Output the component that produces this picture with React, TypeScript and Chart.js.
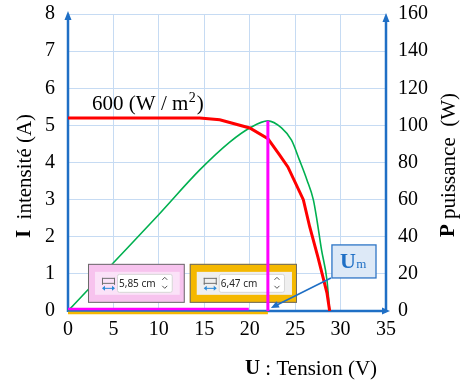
import React, { useEffect, useRef } from "react";
import { Chart, registerables } from "chart.js";

Chart.register(...registerables);

// ---------- data ----------
const xTicks = [0, 5, 10, 15, 20, 25, 30, 35];
const iTicks = [0, 1, 2, 3, 4, 5, 6, 7, 8];
const pTicks = [0, 20, 40, 60, 80, 100, 120, 140, 160];

// I(U) curve, 600 W/m²
const voltageI = [0, 5, 10, 14.5, 16.7, 20, 22, 23.3, 24.2, 25.9, 26.6, 27.5, 28.5, 28.8];
const currentA = [5.2, 5.2, 5.2, 5.2, 5.15, 4.93, 4.64, 4.2, 3.88, 3.0, 2.27, 1.46, 0.49, 0];

// P(U) curve
const voltageP = [0, 5, 10, 14.5, 17.8, 20, 22, 23.5, 24.6, 25.5, 26.3, 27, 27.4, 27.9, 28.5, 28.8];
const powerW = [0, 26, 52, 76, 91, 98.6, 102.4, 98.6, 92, 81, 70.6, 60, 49, 33, 16.7, 0];

// maximum power point
const umVoltage = [22, 22];
const umPower = [102.5, 0];

// ruler readings (cm) and their end voltages
const rulerLabels = ["5,85 cm", "6,47 cm"];
const rulerEnds = [19.9, 22.0];

const irradianceLabel = "600 (W / m";

// ---------- styles ----------
const AXIS_BLUE = "#1f6fc5";
const GRID = "#c6dbf3";
const SERIF = "'Liberation Serif', 'Times New Roman', serif";
const SANS = "'Noto Sans', 'Open Sans', sans-serif";

function arrowHead(ctx: CanvasRenderingContext2D, tx: number, ty: number, angle: number, len: number, half: number, color: string) {
  ctx.save();
  ctx.translate(tx, ty);
  ctx.rotate(angle);
  ctx.beginPath();
  ctx.moveTo(0, 0);
  ctx.lineTo(-len, -half);
  ctx.lineTo(-len, half);
  ctx.closePath();
  ctx.fillStyle = color;
  ctx.fill();
  ctx.restore();
}

function drawRulerBox(ctx: CanvasRenderingContext2D, x0: number, y0: number, x1: number, y1: number, outer: string, inner: string, label: string) {
  ctx.save();
  ctx.fillStyle = outer;
  ctx.fillRect(x0, y0, x1 - x0, y1 - y0);
  ctx.strokeStyle = "#6a6a6a";
  ctx.lineWidth = 1;
  ctx.strokeRect(x0 + 0.5, y0 + 0.5, x1 - x0 - 1, y1 - y0 - 1);
  // inner panel
  ctx.fillStyle = inner;
  ctx.fillRect(x0 + 7, y0 + 8, x1 - x0 - 12, y1 - y0 - 16);
  // icon
  const ix = x0 + 14;
  const iy = y0 + 14;
  ctx.strokeStyle = "#6f6f6f";
  ctx.lineWidth = 1;
  ctx.beginPath();
  ctx.moveTo(ix, iy + 0.5);
  ctx.lineTo(ix + 13, iy + 0.5);
  ctx.moveTo(ix + 0.5, iy);
  ctx.lineTo(ix + 0.5, iy + 7);
  ctx.moveTo(ix + 12.5, iy);
  ctx.lineTo(ix + 12.5, iy + 7);
  ctx.moveTo(ix, iy + 5.5);
  ctx.lineTo(ix + 13, iy + 5.5);
  ctx.stroke();
  ctx.strokeStyle = "#2b8ad8";
  ctx.beginPath();
  ctx.moveTo(ix + 1, iy + 10.5);
  ctx.lineTo(ix + 12, iy + 10.5);
  ctx.stroke();
  arrowHead(ctx, ix, iy + 10.5, Math.PI, 3, 2.5, "#2b8ad8");
  arrowHead(ctx, ix + 13, iy + 10.5, 0, 3, 2.5, "#2b8ad8");
  // input box
  const bx0 = x0 + 29;
  const bx1 = x1 - 13;
  const by0 = y0 + 10;
  const by1 = y1 - 11;
  ctx.fillStyle = "#ffffff";
  ctx.beginPath();
  ctx.roundRect(bx0 + 0.5, by0 + 0.5, bx1 - bx0, by1 - by0, 2);
  ctx.fill();
  ctx.strokeStyle = "#d6d6d6";
  ctx.stroke();
  ctx.fillStyle = "#262626";
  ctx.font = `10px ${SANS}`;
  ctx.textBaseline = "middle";
  ctx.textAlign = "left";
  ctx.fillText(label, bx0 + 2, (by0 + by1) / 2 + 1);
  // spinner
  const sx = bx1 - 7;
  const sy = (by0 + by1) / 2;
  ctx.strokeStyle = "#555";
  ctx.lineWidth = 1;
  ctx.beginPath();
  ctx.moveTo(sx - 2.5, sy - 3);
  ctx.lineTo(sx, sy - 5.5);
  ctx.lineTo(sx + 2.5, sy - 3);
  ctx.moveTo(sx - 2.5, sy + 3);
  ctx.lineTo(sx, sy + 5.5);
  ctx.lineTo(sx + 2.5, sy + 3);
  ctx.stroke();
  ctx.restore();
}

const overlayPlugin = {
  id: "overlay",
  beforeDatasetsDraw(chart: any) {
    const ctx: CanvasRenderingContext2D = chart.ctx;
    const { left, right, top, bottom } = chart.chartArea;
    ctx.save();
    ctx.strokeStyle = AXIS_BLUE;
    ctx.lineWidth = 2.5;
    ctx.beginPath();
    ctx.moveTo(left, bottom + 1);
    ctx.lineTo(left, top + 4);
    ctx.moveTo(right, bottom + 1);
    ctx.lineTo(right, top + 6);
    ctx.moveTo(left, bottom);
    ctx.lineTo(right, bottom);
    ctx.stroke();
    arrowHead(ctx, left, top - 3, -Math.PI / 2, 9, 3.5, AXIS_BLUE);
    arrowHead(ctx, right, top - 1, -Math.PI / 2, 9, 3.5, AXIS_BLUE);
    arrowHead(ctx, right + 4, bottom, 0, 8, 3.5, AXIS_BLUE);
    ctx.restore();
  },
  afterDatasetDraw(chart: any, args: any) {
    if (args.index !== 1) return;
    const ctx: CanvasRenderingContext2D = chart.ctx;
    const xs = chart.scales.x;
    const ys = chart.scales.y;
    drawRulerBox(ctx, xs.getPixelForValue(2.2), ys.getPixelForValue(1.27), xs.getPixelForValue(12.85), ys.getPixelForValue(0.22), "#f7c3ee", "#fbe2f8", rulerLabels[0]);
    drawRulerBox(ctx, xs.getPixelForValue(13.4), ys.getPixelForValue(1.27), xs.getPixelForValue(25.2), ys.getPixelForValue(0.22), "#f5b800", "#efefef", rulerLabels[1]);
  },
  afterDatasetsDraw(chart: any) {
    const ctx: CanvasRenderingContext2D = chart.ctx;
    const xs = chart.scales.x;
    const ys = chart.scales.y;
    const { left, bottom } = chart.chartArea;
    ctx.save();
    // rulers along the U axis
    ctx.lineWidth = 2.5;
    ctx.strokeStyle = "#f5b800";
    ctx.beginPath();
    ctx.moveTo(left, bottom + 2);
    ctx.lineTo(xs.getPixelForValue(rulerEnds[1]), bottom + 2);
    ctx.stroke();
    ctx.strokeStyle = "#ff00ff";
    ctx.beginPath();
    ctx.moveTo(left, bottom - 2);
    ctx.lineTo(xs.getPixelForValue(rulerEnds[0]), bottom - 2);
    ctx.stroke();

    // Um callout
    const bx0 = xs.getPixelForValue(29.05);
    const bx1 = xs.getPixelForValue(33.9);
    const by0 = ys.getPixelForValue(1.78);
    const by1 = ys.getPixelForValue(0.89);
    ctx.fillStyle = "#dde9f7";
    ctx.fillRect(bx0, by0, bx1 - bx0, by1 - by0);
    ctx.strokeStyle = "#2e75c6";
    ctx.lineWidth = 1.3;
    ctx.strokeRect(bx0, by0, bx1 - bx0, by1 - by0);
    ctx.fillStyle = AXIS_BLUE;
    ctx.textBaseline = "alphabetic";
    ctx.textAlign = "left";
    ctx.font = `bold 22px ${SERIF}`;
    ctx.fillText("U", bx0 + 8, by1 - 10);
    const uw = ctx.measureText("U").width;
    ctx.font = `13px ${SERIF}`;
    ctx.fillText("m", bx0 + 8 + uw + 0.5, by1 - 10);
    // arrow to Um
    const tx = xs.getPixelForValue(umVoltage[1]) + 3;
    const ty = bottom - 3;
    ctx.strokeStyle = AXIS_BLUE;
    ctx.lineWidth = 1.6;
    ctx.beginPath();
    ctx.moveTo(bx0 - 1, by1);
    ctx.lineTo(tx + 5, ty - 2.5);
    ctx.stroke();
    arrowHead(ctx, tx, ty, Math.atan2(ty - by1, tx - bx0), 8, 3.5, AXIS_BLUE);

    // irradiance label
    ctx.fillStyle = "#000";
    ctx.font = `21px ${SERIF}`;
    const lx = xs.getPixelForValue(2.65);
    const ly = ys.getPixelForValue(5.6) + 7;
    ctx.fillText(irradianceLabel, lx, ly);
    let w = ctx.measureText(irradianceLabel).width;
    ctx.font = `14px ${SERIF}`;
    ctx.fillText("2", lx + w + 0.5, ly - 8);
    const w2 = ctx.measureText("2").width;
    ctx.font = `21px ${SERIF}`;
    ctx.fillText(")", lx + w + w2 + 1.5, ly);

    // x title
    ctx.textBaseline = "middle";
    ctx.font = `bold 21px ${SERIF}`;
    const t1 = "U";
    const t2 = " : Tension (V)";
    let wa = ctx.measureText(t1).width;
    ctx.font = `21px ${SERIF}`;
    let wb = ctx.measureText(t2).width;
    let sx = 311 - (wa + wb) / 2;
    ctx.font = `bold 21px ${SERIF}`;
    ctx.fillText(t1, sx, 369);
    ctx.font = `21px ${SERIF}`;
    ctx.fillText(t2, sx + wa, 369);

    // rotated axis titles
    const drawRot = (cx: number, cy: number, bold: string, rest: string) => {
      ctx.save();
      ctx.translate(cx, cy);
      ctx.rotate(-Math.PI / 2);
      ctx.font = `bold 21px ${SERIF}`;
      const a = ctx.measureText(bold).width;
      ctx.font = `21px ${SERIF}`;
      const b = ctx.measureText(rest).width;
      const start = -(a + b) / 2;
      ctx.font = `bold 21px ${SERIF}`;
      ctx.fillText(bold, start, 0);
      ctx.font = `21px ${SERIF}`;
      ctx.fillText(rest, start + a, 0);
      ctx.restore();
    };
    ctx.textBaseline = "middle";
    drawRot(25, 176, "I", "  intensité (A)");
    drawRot(449, 165, "P", " puissance  (W)");
    ctx.restore();
  },
};

export default function App() {
  const ref = useRef<HTMLCanvasElement | null>(null);
  useEffect(() => {
    document.body.style.margin = "0";
    const canvas = ref.current;
    if (!canvas) return;
    const chart = new Chart(canvas, {
      type: "line",
      data: {
        datasets: [
          {
            label: "P",
            data: voltageP.map((v, i) => ({ x: v, y: powerW[i] })),
            yAxisID: "y1",
            borderColor: "#00b050",
            borderWidth: 1.6,
            pointRadius: 0,
            cubicInterpolationMode: "monotone",
            fill: false,
            order: 3,
          },
          {
            label: "I",
            data: voltageI.map((v, i) => ({ x: v, y: currentA[i] })),
            yAxisID: "y",
            borderColor: "#ff0000",
            borderWidth: 3,
            pointRadius: 0,
            tension: 0,
            fill: false,
            order: 2,
          },
          {
            label: "Um",
            data: umVoltage.map((v, i) => ({ x: v, y: umPower[i] })),
            yAxisID: "y1",
            borderColor: "#ff00ff",
            borderWidth: 3,
            pointRadius: 0,
            fill: false,
            order: 1,
          },
        ],
      },
      options: {
        responsive: false,
        animation: false,
        devicePixelRatio: 1,
        layout: { padding: { top: 14, left: 0, right: 0, bottom: 0 }, autoPadding: false },
        plugins: { legend: { display: false }, tooltip: { enabled: false } },
        scales: {
          x: {
            type: "linear",
            min: 0,
            max: 35,
            afterBuildTicks: (s: any) => { s.ticks = xTicks.map((v) => ({ value: v })); },
            afterFit: (s: any) => { s.height = 74; s.paddingLeft = 0; s.paddingRight = 0; },
            ticks: { color: "#000", font: { family: SERIF, size: 20 }, padding: 7, maxRotation: 0 },
            grid: { color: GRID, lineWidth: 1, drawTicks: false },
            border: { display: false },
          },
          y: {
            position: "left",
            min: 0,
            max: 8,
            afterBuildTicks: (s: any) => { s.ticks = iTicks.map((v) => ({ value: v })); },
            afterFit: (s: any) => { s.width = 68; s.paddingTop = 0; s.paddingBottom = 0; },
            ticks: { color: "#000", font: { family: SERIF, size: 20 }, padding: 13 },
            grid: { color: GRID, lineWidth: 1, drawTicks: false },
            border: { display: false },
          },
          y1: {
            position: "right",
            min: 0,
            max: 160,
            afterBuildTicks: (s: any) => { s.ticks = pTicks.map((v) => ({ value: v })); },
            afterFit: (s: any) => { s.width = 82; s.paddingTop = 0; s.paddingBottom = 0; },
            ticks: { color: "#000", font: { family: SERIF, size: 20 }, padding: 12 },
            grid: { display: false, drawTicks: false },
            border: { display: false },
          },
        },
      },
      plugins: [overlayPlugin],
    } as any);
    return () => chart.destroy();
  }, []);
  return (
    <div style={{ width: 468, height: 385, position: "relative" }}>
      <canvas ref={ref} width={468} height={385} style={{ display: "block" }} />
    </div>
  );
}
